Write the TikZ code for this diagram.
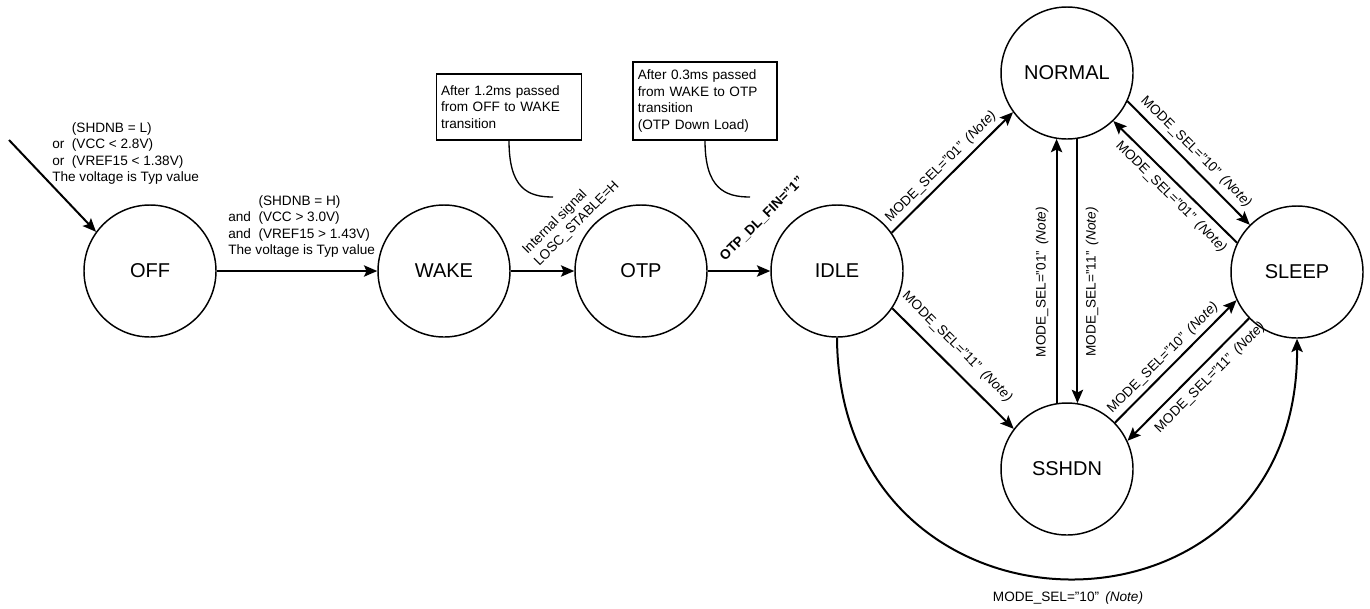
\documentclass[tikz,border=0pt]{standalone}
\usepackage{fontspec}
\setmainfont{Liberation Sans}
\usetikzlibrary{arrows.meta}
\begin{document}
\begin{tikzpicture}[x=0.75pt,y=-0.75pt,
  state/.style={circle, draw, line width=1.1pt, minimum size=99pt, inner sep=0pt, font=\fontsize{15}{18}\selectfont},
  tr/.style={line width=1.5pt, -{Stealth[length=10pt,width=8.5pt,inset=2pt]}},
  lbl/.style={font=\fontsize{10.2}{12.4}\selectfont, inner sep=0pt},
  notebox/.style={draw, line width=1pt, rectangle, align=left, inner xsep=3.6pt, inner ysep=0pt, font=\fontsize{10.2}{12.4}\selectfont},
  callout/.style={line width=1pt}]
\useasboundingbox (0,0) rectangle (1370,608);

% states
\node[state] (OFF)    at (150,271) {OFF};
\node[state] (WAKE)   at (444,271) {WAKE};
\node[state] (OTP)    at (641,271) {OTP};
\node[state] (IDLE)   at (837,271) {IDLE};
\node[state] (NORMAL) at (1067,73) {NORMAL};
\node[state] (SSHDN)  at (1067,469) {SSHDN};
\node[state] (SLEEP)  at (1297,272) {SLEEP};

% note boxes
\node[notebox, text width=102pt, minimum height=49.5pt] (box1) at (509,107)
  {After 1.2ms passed\\from OFF to WAKE\\transition};
\node[notebox, text width=100.8pt, minimum height=58.5pt] (box2) at (705,101)
  {After 0.3ms passed\\from WAKE to OTP\\transition\\(OTP Down Load)};
\coordinate (c1) at (553,197);
\coordinate (c2) at (750,197);
\draw[callout] (box1.south) .. controls +(0,48) and +(-25,0) .. (c1);
\draw[callout] (box2.south) .. controls +(0,48) and +(-25,0) .. (c2);

% entry
\coordinate (in0) at (9,140);
\draw[tr] (in0) -- (OFF.144);
\node[lbl, align=left, anchor=north west] (lOff) at (52,122)
  {\phantom{or\ \ }(SHDNB = L)\\or\ \ (VCC < 2.8V)\\or\ \ (VREF15 < 1.38V)\\The voltage is Typ value};

% main chain
\draw[tr] (OFF.east) -- (WAKE.west);
\node[lbl, align=left, anchor=north west] (lWake) at (228,195)
  {\phantom{and\ \ }(SHDNB = H)\\and\ \ (VCC > 3.0V)\\and\ \ (VREF15 > 1.43V)\\The voltage is Typ value};
\draw[tr] (WAKE.east) -- (OTP.west);
\node[lbl, align=left, rotate=45] (lOtp) at (571,218) {Internal signal\\LOSC\_STABLE=H};
\draw[tr] (OTP.east) -- (IDLE.west);
\node[lbl, rotate=45, font=\fontsize{10.2}{12.4}\selectfont\bfseries] (lIdle) at (762,219) {OTP\_DL\_FIN="1"};

% mode transitions
\draw[tr] (IDLE.35) -- (NORMAL.216);
\node[lbl, rotate=45] (lIN) at (941,167) {MODE\_SEL="01"\hspace{0.45em}\textit{(Note)}};
\draw[tr] (IDLE.326) -- (SSHDN.143);
\node[lbl, rotate=-45] (lIS) at (957,347) {MODE\_SEL="11"\hspace{0.45em}\textit{(Note)}};
\draw[tr] (NORMAL.-81) -- (SSHDN.81);
\node[lbl, rotate=90] (lNS) at (1092,282) {MODE\_SEL="11"\hspace{0.45em}\textit{(Note)}};
\draw[tr] (SSHDN.99) -- (NORMAL.-99);
\node[lbl, rotate=90] (lSN) at (1042,282) {MODE\_SEL="01"\hspace{0.45em}\textit{(Note)}};
\draw[tr] (NORMAL.-25) -- (SLEEP.135);
\node[lbl, rotate=-45] (lNL) at (1196,152) {MODE\_SEL="10"\hspace{0.45em}\textit{(Note)}};
\draw[tr] (SLEEP.154) -- (NORMAL.-46);
\node[lbl, rotate=-45] (lLN) at (1171,197) {MODE\_SEL="01"\hspace{0.45em}\textit{(Note)}};
\draw[tr] (SSHDN.44) -- (SLEEP.205);
\node[lbl, rotate=45] (lSL) at (1163,358) {MODE\_SEL="10"\hspace{0.45em}\textit{(Note)}};
\draw[tr] (SLEEP.224) -- (SSHDN.25);
\node[lbl, rotate=45] (lLS) at (1210,378) {MODE\_SEL="11"\hspace{0.45em}\textit{(Note)}};
\draw[tr] (IDLE.south) .. controls +(2,320) and +(2,320) .. (SLEEP.south);
\node[lbl] (lIL) at (1068,598) {MODE\_SEL="10"\hspace{0.45em}\textit{(Note)}};
\end{tikzpicture}
\end{document}
